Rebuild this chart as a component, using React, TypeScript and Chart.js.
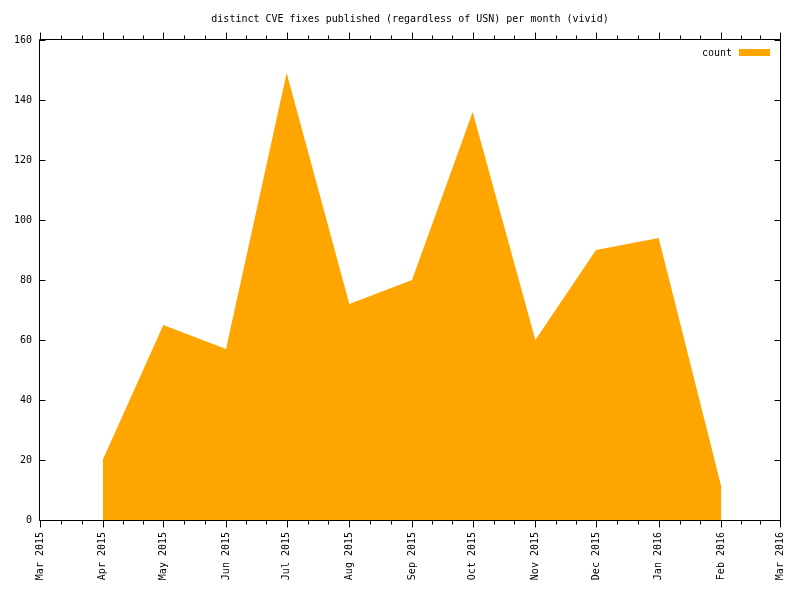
import React, { useEffect, useRef } from "react";
import { Chart, registerables } from "chart.js";

Chart.register(...registerables);

const titleText = "distinct CVE fixes published (regardless of USN) per month (vivid)";
const seriesName = "count";
const pointDates = [
  "2015-04-01", "2015-05-01", "2015-06-01", "2015-07-01", "2015-08-01", "2015-09-01",
  "2015-10-01", "2015-11-01", "2015-12-01", "2016-01-01", "2016-02-01",
];
const counts = [20, 65, 57, 149, 72, 80, 136, 60, 90, 94, 11];
const tickDates = [
  "2015-03-01", "2015-04-01", "2015-05-01", "2015-06-01", "2015-07-01", "2015-08-01", "2015-09-01",
  "2015-10-01", "2015-11-01", "2015-12-01", "2016-01-01", "2016-02-01", "2016-03-01",
];
const tickLabels = [
  "Mar 2015", "Apr 2015", "May 2015", "Jun 2015", "Jul 2015", "Aug 2015", "Sep 2015",
  "Oct 2015", "Nov 2015", "Dec 2015", "Jan 2016", "Feb 2016", "Mar 2016",
];
const yTicks = [0, 20, 40, 60, 80, 100, 120, 140, 160];

const FONT = "DejaVu Sans Mono";
const ORANGE = "#ffa500";

const gnuplotFrame = {
  id: "gnuplotFrame",
  afterDraw(chart: any) {
    const { ctx, chartArea } = chart;
    const { left, right, top, bottom } = chartArea;
    const xs = chart.scales.x;
    const ys = chart.scales.y;
    ctx.save();
    ctx.strokeStyle = "#000";
    ctx.lineWidth = 1;
    const L = Math.round(left) - 0.5;
    const R = Math.round(right) + 0.5;
    const T = Math.round(top) - 0.5;
    const B = Math.round(bottom) + 0.5;
    ctx.beginPath();
    ctx.rect(L, T, R - L, B - T);
    yTicks.forEach((v) => {
      const y = Math.round(ys.getPixelForValue(v)) + 0.5;
      ctx.moveTo(L, y);
      ctx.lineTo(L + 6, y);
      ctx.moveTo(R, y);
      ctx.lineTo(R - 6, y);
    });
    const vals = tickDates.map((d) => Date.parse(d));
    vals.forEach((v, i) => {
      const x = Math.round(xs.getPixelForValue(v)) + 0.5;
      ctx.moveTo(x, B);
      ctx.lineTo(x, B + 7);
      ctx.moveTo(x, T);
      ctx.lineTo(x, T - 7);
      if (i < vals.length - 1) {
        const next = vals[i + 1];
        [1 / 3, 2 / 3].forEach((f) => {
          const mx = Math.round(xs.getPixelForValue(v + (next - v) * f)) + 0.5;
          ctx.moveTo(mx, B);
          ctx.lineTo(mx, B + 4);
          ctx.moveTo(mx, T);
          ctx.lineTo(mx, T - 4);
        });
      }
    });
    ctx.stroke();
    ctx.fillStyle = "#000";
    ctx.font = `10px "${FONT}"`;
    ctx.textAlign = "center";
    ctx.textBaseline = "middle";
    ctx.fillText(titleText, (left + right) / 2, 19);
    ctx.textAlign = "right";
    ctx.fillText(seriesName, 732, 53);
    ctx.fillStyle = ORANGE;
    ctx.fillRect(739, 49, 31, 7);
    ctx.restore();
  },
};

export default function App() {
  const ref = useRef<HTMLCanvasElement>(null);
  useEffect(() => {
    if (!ref.current) return;
    const chart = new Chart(ref.current, {
      type: "line",
      data: {
        datasets: [
          {
            label: seriesName,
            data: pointDates.map((d, i) => ({ x: Date.parse(d), y: counts[i] })),
            backgroundColor: ORANGE,
            borderColor: ORANGE,
            borderWidth: 0,
            pointRadius: 0,
            tension: 0,
            fill: "origin",
          },
        ],
      },
      options: {
        responsive: false,
        animation: false,
        layout: { padding: { top: 40, right: 20, left: 0, bottom: 0 } },
        plugins: { legend: { display: false }, title: { display: false }, tooltip: { enabled: false } },
        scales: {
          x: {
            type: "linear",
            min: Date.parse(tickDates[0]),
            max: Date.parse(tickDates[tickDates.length - 1]),
            grid: { display: false, drawTicks: false },
            border: { display: false },
            afterBuildTicks: (scale: any) => {
              scale.ticks = tickDates.map((d) => ({ value: Date.parse(d) }));
            },
            afterFit: (scale: any) => {
              scale.height = 80;
              scale.paddingLeft = 0;
              scale.paddingRight = 0;
            },
            ticks: {
              autoSkip: false,
              minRotation: 90,
              maxRotation: 90,
              padding: 12,
              color: "#000",
              font: { family: FONT, size: 10 },
              callback: (_v: any, i: number) => tickLabels[i],
            },
          },
          y: {
            min: 0,
            max: 160,
            grid: { display: false, drawTicks: false },
            border: { display: false },
            afterFit: (scale: any) => {
              scale.width = 40;
              scale.paddingTop = 0;
              scale.paddingBottom = 0;
            },
            afterBuildTicks: (scale: any) => {
              scale.ticks = yTicks.map((v) => ({ value: v }));
            },
            ticks: {
              padding: 8,
              color: "#000",
              font: { family: FONT, size: 10 },
            },
          },
        },
      },
      plugins: [gnuplotFrame],
    } as any);
    return () => chart.destroy();
  }, []);
  return (
    <div style={{ position: "absolute", left: 0, top: 0, width: 800, height: 600, background: "#fff" }}>
      <canvas ref={ref} width={800} height={600} style={{ display: "block" }} />
    </div>
  );
}
